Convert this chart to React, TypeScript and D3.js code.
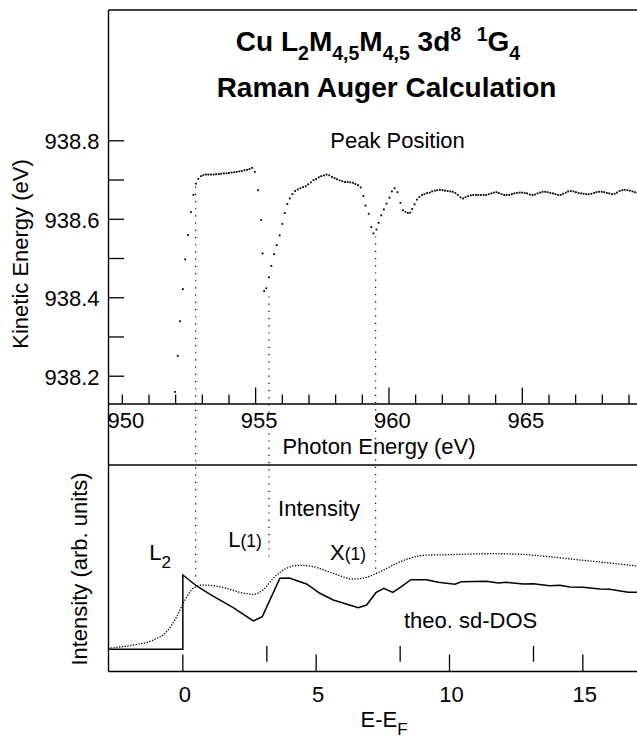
import React from 'react';
import * as d3 from 'd3';

// ---------- data ----------
const fermiPhotonEnergy = 952.27; // photon energy corresponding to E-EF = 0

const photonMajorTicks = [950, 955, 960, 965];
const photonMinorTicks = [951, 952, 953, 954, 956, 957, 958, 959, 961, 962, 963, 964, 966, 967, 968, 969];
const keMajorTicks = [938.2, 938.4, 938.6, 938.8];
const keMinorTicks = [938.3, 938.5, 938.7];
const eefTicks = [0, 5, 10, 15];
const eefMarkers = [3.15, 8.15, 13.15];

// Peak position (photon energy, kinetic energy)
const peakEnergy = [
  951.98, 952.08, 952.17, 952.27, 952.36, 952.46, 952.57, 952.67, 952.76, 952.85, 952.95,
  953.04, 953.14, 953.23, 953.33, 953.43, 953.52, 953.62, 953.71, 953.81, 953.91,
  954.00, 954.10, 954.20, 954.29, 954.39, 954.48, 954.58, 954.68, 954.77, 954.87, 954.97,
  955.09, 955.21, 955.26, 955.32, 955.40, 955.50, 955.59, 955.69, 955.79, 955.90,
  956.00, 956.09, 956.19, 956.28, 956.38, 956.48,
  956.58, 956.68, 956.78, 956.88, 956.97, 957.07, 957.17, 957.27, 957.37, 957.46,
  957.56, 957.66, 957.76, 957.86, 957.96, 958.05, 958.15, 958.25, 958.35, 958.45,
  958.55, 958.65, 958.74, 958.84, 958.94,
  959.04, 959.12, 959.24, 959.34, 959.42, 959.53, 959.61, 959.71, 959.81, 959.91,
  960.02, 960.11, 960.21, 960.32, 960.43, 960.52, 960.62, 960.71, 960.80, 960.87,
  960.96, 961.05, 961.14, 961.24, 961.33, 961.43, 961.53, 961.62, 961.72, 961.81,
  961.91, 962.01, 962.10, 962.20, 962.30, 962.39, 962.49, 962.58, 962.68, 962.78,
  962.87, 962.97, 963.07, 963.16, 963.26, 963.35, 963.45, 963.55, 963.64, 963.74,
  963.84, 963.93, 964.03, 964.12, 964.22, 964.32, 964.41, 964.51, 964.61, 964.70,
  964.80, 964.90, 964.99, 965.09, 965.18, 965.28, 965.38, 965.47, 965.57, 965.67,
  965.76, 965.86, 965.95, 966.05, 966.15, 966.24, 966.34, 966.44, 966.53, 966.63,
  966.72, 966.82, 966.92, 967.01, 967.11, 967.21, 967.30, 967.40, 967.49, 967.59,
  967.69, 967.78, 967.88, 967.98, 968.07, 968.17, 968.26, 968.36, 968.46, 968.55,
  968.65, 968.75, 968.84, 968.94, 969.03, 969.13, 969.22, 969.32,
];
const peakKE = [
  938.160, 938.252, 938.340, 938.422, 938.498, 938.560, 938.618, 938.662, 938.691, 938.703, 938.710,
  938.713, 938.714, 938.714, 938.714, 938.714, 938.715, 938.715, 938.716, 938.717, 938.717,
  938.718, 938.719, 938.720, 938.721, 938.722, 938.723, 938.725, 938.726, 938.728, 938.731, 938.721,
  938.674, 938.598, 938.513, 938.417, 938.424, 938.452, 938.481, 938.511, 938.534, 938.559,
  938.588, 938.616, 938.639, 938.653, 938.664, 938.672,
  938.676, 938.679, 938.682, 938.684, 938.689, 938.694, 938.700, 938.703, 938.707, 938.710,
  938.712, 938.714, 938.712, 938.708, 938.705, 938.702, 938.699, 938.697, 938.695, 938.695,
  938.694, 938.693, 938.690, 938.687, 938.681,
  938.659, 938.635, 938.614, 938.580, 938.564, 938.574, 938.591, 938.610, 938.625, 938.640,
  938.655, 938.671, 938.679, 938.669, 938.642, 938.623, 938.619, 938.616, 938.617, 938.626,
  938.638, 938.650, 938.657, 938.662, 938.664, 938.667, 938.668, 938.671, 938.673, 938.674,
  938.675, 938.674, 938.673, 938.672, 938.671, 938.670, 938.667, 938.662, 938.656, 938.653,
  938.656, 938.659, 938.661, 938.662, 938.662, 938.662, 938.662, 938.662, 938.662, 938.664,
  938.666, 938.668, 938.669, 938.667, 938.664, 938.662, 938.662, 938.662, 938.664, 938.666,
  938.667, 938.668, 938.668, 938.667, 938.666, 938.663, 938.662, 938.663, 938.666, 938.668,
  938.670, 938.670, 938.669, 938.667, 938.666, 938.664, 938.662, 938.662, 938.665, 938.668,
  938.671, 938.672, 938.671, 938.669, 938.667, 938.666, 938.665, 938.664, 938.664, 938.665,
  938.667, 938.669, 938.670, 938.670, 938.669, 938.667, 938.666, 938.664, 938.665, 938.668,
  938.672, 938.674, 938.675, 938.674, 938.673, 938.671, 938.669, 938.667,
];

// theoretical sd-DOS (solid) : E-EF, intensity
const dosEEF = [-2.81, 0.0, 0.0, 0.52, 1.02, 1.89, 2.64, 2.98, 3.64, 3.99, 4.64, 5.14, 5.64, 6.58, 6.89,
  7.24, 7.54, 7.87, 8.20, 8.55, 9.14, 9.58, 10.20, 10.45, 11.39, 11.83, 12.14, 12.76, 13.14, 13.76,
  14.14, 14.51, 15.01, 15.64, 16.01, 16.70, 17.03];
const dosI = [0, 0, 1.0, 0.852, 0.740, 0.560, 0.381, 0.439, 0.956, 0.960, 0.879, 0.754, 0.664, 0.560, 0.596,
  0.762, 0.821, 0.767, 0.843, 0.937, 0.937, 0.902, 0.875, 0.910, 0.915, 0.892, 0.902, 0.879, 0.883, 0.856,
  0.861, 0.838, 0.834, 0.812, 0.808, 0.767, 0.767];

// Raman Auger intensity (dotted) : E-EF, intensity
const intEEF = [-2.81, -1.86, -1.11, -0.61, -0.23, 0.08, 0.39, 0.76, 1.14, 1.64, 2.14, 2.64, 3.01, 3.39, 3.89,
  4.39, 4.89, 5.64, 6.39, 6.89, 7.27, 7.77, 8.02, 8.64, 9.01, 9.89, 11.64, 12.64, 13.76, 14.89, 15.89, 17.03];
const intI = [0.013, 0.058, 0.125, 0.237, 0.439, 0.664, 0.821, 0.865, 0.856, 0.821, 0.767, 0.740, 0.798, 0.956, 1.090,
  1.131, 1.112, 1.023, 0.946, 0.969, 1.023, 1.112, 1.157, 1.238, 1.265, 1.273, 1.287, 1.279, 1.246, 1.202, 1.166, 1.121];

// vertical guide lines: photon energy, start KE (top), end intensity (bottom)
const guideEnergy = [952.75, 955.5, 959.5];
const guideKE = [938.691, 938.411, 938.564];
const guideI = [0.98, 1.25, 1.04];

// ---------- layout ----------
const W = 637;
const H = 738;
const FONT = '"Liberation Sans", Arial, Helvetica, sans-serif';
const left = 108.5;
const right = 637.6;
const topY = 10;
const topAxisY = 404;
const midLineY = 465;
const bottomAxisY = 671.5;

const xTop = d3.scaleLinear().domain([950, 965]).range([122.3, 522.3]);
const x0 = xTop.invert(left);
const x1 = xTop.invert(right);
const xBot = d3.scaleLinear()
  .domain([x0 - fermiPhotonEnergy, x1 - fermiPhotonEnergy])
  .range([left, right]);
const yTop = d3.scaleLinear().domain([938.2, 938.8]).range([376.2, 140.8]);
const yBot = d3.scaleLinear().domain([0, 1]).range([649.3, 575]);

export default function App() {
  const lineDos = d3.line<number>()
    .x((_, i) => xBot(dosEEF[i]))
    .y((d) => yBot(d))
    .curve(d3.curveLinear);
  const lineInt = d3.line<number>()
    .x((_, i) => xBot(intEEF[i]))
    .y((d) => yBot(d))
    .curve(d3.curveMonotoneX);

  const sub = 19.5;
  return (
    <svg width={W} height={H} viewBox={`0 0 ${W} ${H}`}
      style={{ position: 'absolute', left: 0, top: 0, display: 'block', background: '#fff' }}
      fontFamily={FONT}>
      <rect x={0} y={0} width={W} height={H} fill="#fff" />

      {/* frame lines */}
      <g stroke="#000" strokeWidth={1.4} fill="none">
        <line x1={left} y1={topY} x2={W + 2} y2={topY} />
        <line x1={left} y1={topY} x2={left} y2={bottomAxisY} />
        <line x1={left} y1={topAxisY} x2={W + 2} y2={topAxisY} />
        <line x1={left} y1={midLineY} x2={W + 2} y2={midLineY} />
        <line x1={left} y1={bottomAxisY} x2={W + 2} y2={bottomAxisY} />
      </g>

      {/* top panel y ticks */}
      <g stroke="#000" strokeWidth={1.3}>
        {[...keMajorTicks, ...keMinorTicks].map((v) => (
          <line key={v} x1={left} x2={left + 15.5} y1={yTop(v)} y2={yTop(v)} />
        ))}
      </g>
      <g fontSize={22} textAnchor="end" fill="#000">
        {keMajorTicks.map((v) => (
          <text key={v} x={99.5} y={yTop(v) + 8.3}>{v.toFixed(1)}</text>
        ))}
      </g>
      <text transform={`translate(28,254) rotate(-90)`} fontSize={22} textAnchor="middle">Kinetic Energy (eV)</text>

      {/* top panel x ticks */}
      <g stroke="#000" strokeWidth={1.3}>
        {photonMajorTicks.map((v) => (
          <line key={v} x1={xTop(v)} x2={xTop(v)} y1={topAxisY} y2={topAxisY - (v === 950 ? 9.5 : 16.5)} />
        ))}
        {photonMinorTicks.map((v) => (
          <line key={v} x1={xTop(v)} x2={xTop(v)} y1={topAxisY} y2={topAxisY - 9.5} />
        ))}
      </g>
      <g fontSize={22} textAnchor="middle">
        {photonMajorTicks.map((v) => (
          <text key={v} x={xTop(v) + 3.5} y={428}>{v}</text>
        ))}
      </g>
      <text x={379} y={454} fontSize={22} textAnchor="middle">Photon Energy (eV)</text>

      {/* title */}
      <text x={378} y={51} fontSize={28} fontWeight="bold" textAnchor="middle">
        {'Cu L'}
        <tspan fontSize={sub} dy={9}>2</tspan>
        <tspan dy={-9}>M</tspan>
        <tspan fontSize={sub} dy={9}>4,5</tspan>
        <tspan dy={-9}>M</tspan>
        <tspan fontSize={sub} dy={9}>4,5</tspan>
        <tspan dy={-9}>{'\u00a03d'}</tspan>
        <tspan fontSize={sub} dy={-10}>8</tspan>
        <tspan dy={10}>{'\u00a0\u00a0'}</tspan>
        <tspan fontSize={sub} dy={-10}>1</tspan>
        <tspan dy={10}>G</tspan>
        <tspan fontSize={sub} dy={9}>4</tspan>
      </text>
      <text x={386.5} y={97} fontSize={28} fontWeight="bold" textAnchor="middle">Raman Auger Calculation</text>
      <text x={397.5} y={148} fontSize={22} textAnchor="middle">Peak Position</text>

      {/* vertical guide lines */}
      <g stroke="#000" strokeWidth={1.2} strokeDasharray="1.2 6">
        {guideEnergy.map((e, i) => (
          <line key={e} x1={xTop(e)} x2={xTop(e)} y1={yTop(guideKE[i]) + 3} y2={yBot(guideI[i])} />
        ))}
      </g>

      {/* peak position dots */}
      <g fill="#000">
        {peakKE.map((v, i) => (
          <rect key={i} x={xTop(peakEnergy[i]) - 0.9} y={yTop(v) - 0.9} width={1.8} height={1.8} />
        ))}
      </g>

      {/* bottom panel */}
      <text transform={`translate(87,569) rotate(-90)`} fontSize={22} textAnchor="middle">Intensity (arb. units)</text>
      <path d={lineInt(intI) ?? ''} fill="none" stroke="#000" strokeWidth={1.3} strokeDasharray="1.3 1.5" />
      <path d={lineDos(dosI) ?? ''} fill="none" stroke="#000" strokeWidth={1.5} strokeLinejoin="miter" />

      <g stroke="#000" strokeWidth={1.3}>
        {eefTicks.map((v) => (
          <line key={v} x1={xBot(v)} x2={xBot(v)} y1={bottomAxisY} y2={bottomAxisY - 17} />
        ))}
        {eefMarkers.map((v) => (
          <line key={v} x1={xBot(v)} x2={xBot(v)} y1={661.7} y2={646} />
        ))}
      </g>
      <g fontSize={22} textAnchor="middle">
        {eefTicks.map((v) => (
          <text key={v} x={xBot(v) + 2} y={701.7}>{v}</text>
        ))}
      </g>
      <text x={384} y={726.5} fontSize={22} textAnchor="middle">
        {'E-E'}
        <tspan fontSize={17} dy={8.5}>F</tspan>
      </text>

      {/* annotations */}
      <text x={149.3} y={560} fontSize={22}>
        L<tspan fontSize={17} dy={8}>2</tspan>
      </text>
      <text x={228.3} y={547.3} fontSize={22}>
        L<tspan fontSize={17.5}>(1)</tspan>
      </text>
      <text x={319} y={516} fontSize={22} textAnchor="middle">Intensity</text>
      <text x={330} y={560} fontSize={22}>
        X<tspan fontSize={17.5}>(1)</tspan>
      </text>
      <text x={404} y={627.7} fontSize={22}>theo. sd-DOS</text>
    </svg>
  );
}
